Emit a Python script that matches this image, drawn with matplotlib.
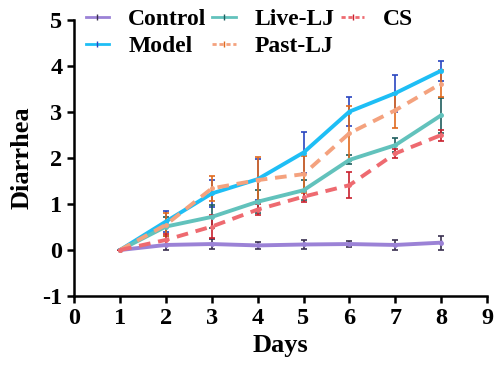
import numpy as np
import matplotlib.pyplot as plt
from matplotlib.lines import Line2D

days = [1, 2, 3, 4, 5, 6, 7, 8]

control = [0.0, 0.11, 0.13, 0.10, 0.12, 0.13, 0.11, 0.16]
control_err = [0.0, 0.10, 0.10, 0.08, 0.10, 0.07, 0.10, 0.15]
model = [0.0, 0.62, 1.23, 1.54, 2.12, 3.01, 3.41, 3.90]
model_err = [0.0, 0.22, 0.30, 0.45, 0.45, 0.32, 0.40, 0.22]
live_lj = [0.0, 0.51, 0.72, 1.05, 1.30, 1.96, 2.28, 2.93]
live_err = [0.0, 0.20, 0.25, 0.25, 0.22, 0.10, 0.15, 0.38]
past_lj = [0.0, 0.55, 1.34, 1.52, 1.65, 2.54, 3.04, 3.62]
past_err = [0.0, 0.25, 0.27, 0.50, 0.40, 0.60, 0.38, 0.30]
cs = [0.0, 0.22, 0.51, 0.88, 1.16, 1.41, 2.10, 2.50]
cs_err = [0.0, 0.12, 0.25, 0.12, 0.12, 0.28, 0.10, 0.12]

plt.rcParams['font.family'] = ['Liberation Serif', 'DejaVu Serif']
plt.rcParams['font.weight'] = 'bold'
plt.rcParams['axes.unicode_minus'] = False

fig = plt.figure(figsize=(4.98, 3.79), dpi=100)
ax = fig.add_axes([0.149, 0.219, 0.829, 0.728])

series = [
    ('Control', control, control_err, '#9B82D6', '#3A3050', '-'),
    ('Model', model, model_err, '#1EBEF5', '#2A45C0', '-'),
    ('Live-LJ', live_lj, live_err, '#62C2BC', '#1F5E5E', '-'),
    ('Past-LJ', past_lj, past_err, '#F4A27E', '#E06A1E', (0, (3, 2))),
    ('CS', cs, cs_err, '#EE6A70', '#C8202E', (0, (3, 2))),
]

handles = []
for name, vals, err, col, ecol, ls in series:
    ax.errorbar(days, vals, yerr=err, color=col, ecolor=ecol, lw=2.8,
                ls=ls, elinewidth=1.2, capsize=2.2, capthick=1.2,
                marker='o', markersize=2.5, zorder=3)
    handles.append(Line2D([], [], color=col, lw=2.0, ls=ls if ls == '-' else (0, (1.5, 1)),
                          marker='|', markersize=4, markeredgecolor=ecol, label=name))

ax.set_xlim(0, 9)
ax.set_ylim(-1, 5)
ax.set_xticks(range(0, 10))
ax.set_yticks(range(-1, 6))
for s in ['top', 'right']:
    ax.spines[s].set_visible(False)
for s in ['left', 'bottom']:
    ax.spines[s].set_linewidth(1.8)
ax.tick_params(width=1.8, length=5, labelsize=17.5)
ax.set_xlabel('Days', fontsize=19, fontweight='bold', labelpad=4)
ax.set_ylabel('Diarrhea', fontsize=19, fontweight='bold', labelpad=6)

ax.legend(handles=handles, loc='upper left', bbox_to_anchor=(0.172, 0.978),
          bbox_transform=fig.transFigure, ncol=3, frameon=False, fontsize=17,
          handlelength=1.0, handletextpad=0.8, columnspacing=0.25,
          labelspacing=0.25, borderaxespad=0, borderpad=0)

fig.savefig('out.png', dpi=100)
